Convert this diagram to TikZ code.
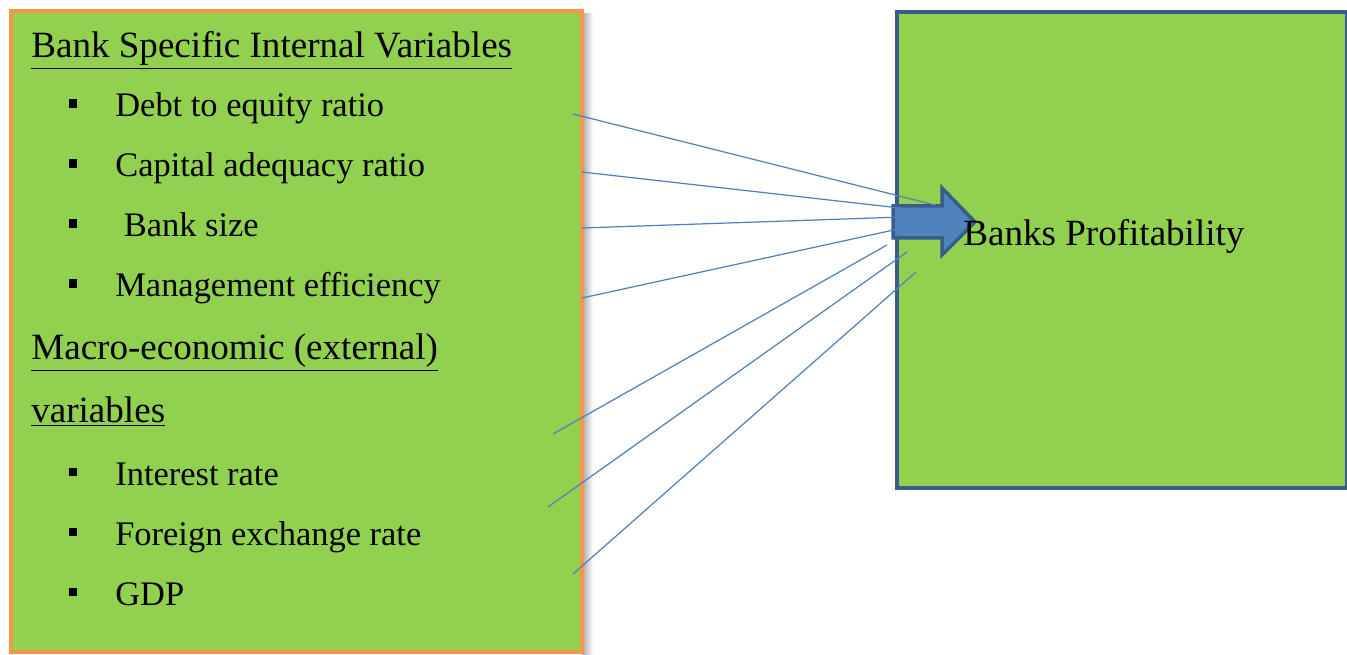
\documentclass[tikz,border=0pt]{standalone}
\usepackage{fontspec}
\setmainfont{Liberation Serif}
\usepackage{xcolor}
\usepackage{tikz}
\usetikzlibrary{positioning}
\definecolor{verde}{HTML}{92D050}
\definecolor{laranja}{HTML}{F79646}
\definecolor{marinho}{HTML}{385D8A}
\definecolor{azul}{HTML}{4F81BD}
\tikzset{
  caixavar/.style={draw=laranja, fill=verde, line width=0.08cm, inner sep=0pt, anchor=north west},
  caixalucro/.style={draw=marinho, fill=verde, line width=0.08cm, inner sep=0pt, anchor=north west},
  texto/.style={anchor=base west, inner sep=0pt, font=\fontsize{21.1}{25}\selectfont},
  item/.style={texto, font=\fontsize{19.6}{24}\selectfont},
  marca/.style={fill=black, inner sep=0pt, minimum size=0.18cm},
  seta/.style={draw=marinho, fill=azul, line width=0.07cm, line join=miter},
  ligacao/.style={draw=azul, line width=0.7pt},
}

\begin{document}
\begin{tikzpicture}[x=0.02cm, y=-0.02cm]
  \useasboundingbox (0,0) rectangle (1347,655);
  % boxes
  \shade[left color=gray!70, right color=white] (582,14) rectangle (593,655);
  \fill[gray!45] (899,487) rectangle (1347,490);
  \node[caixavar, minimum width=11.42cm, minimum height=12.82cm] (variaveis) at (9,9) {};
  \node[caixalucro, minimum width=9cm, minimum height=9.52cm] (lucro) at (895,10) {};

  % left texts
  \node[texto] (interno) at (31,58) {\underline{Bank Specific Internal Variables}};
  \node[item] (divida) at (115,117) {Debt to equity ratio};
  \node[item] (capital) at (115,177) {Capital adequacy ratio};
  \node[item] (tamanho) at (115,237) {\ Bank size};
  \node[item] (gestao) at (115,297) {Management efficiency};
  \node[texto] (macro) at (31,360) {\underline{Macro-economic (external)}};
  \node[texto] (macrob) at (31,423) {\underline{variables}};
  \node[item] (juros) at (115,485) {Interest rate};
  \node[item] (cambio) at (115,545) {Foreign exchange rate};
  \node[item] (pib) at (115,605) {GDP};
  \foreach \y/\n in {104/m1, 164/m2, 224/m3, 284/m4, 472/m5, 532/m6, 592/m7}
    \node[marca] (\n) at (73,\y) {};

  % arrow into the profitability box
  \draw[seta] (893,206) -- (942,206) -- (942,188) -- (975,222) -- (942,255) -- (942,238) -- (893,238) -- cycle;
  \node[texto] (rentab) at (963,246) {Banks Profitability};

  % connectors
  \coordinate (s1) at (573,114); \coordinate (e1) at (935,205);
  \coordinate (s2) at (582,172); \coordinate (e2) at (935,212);
  \coordinate (s3) at (582,228); \coordinate (e3) at (932,216);
  \coordinate (s4) at (582,298); \coordinate (e4) at (935,221);
  \coordinate (s5) at (553,434); \coordinate (e5) at (887,245);
  \coordinate (s6) at (548,507); \coordinate (e6) at (907,252);
  \coordinate (s7) at (573,574); \coordinate (e7) at (916,272);
  \foreach \i in {1,...,7}
    \draw[ligacao] (s\i) -- (e\i);
\end{tikzpicture}
\end{document}
